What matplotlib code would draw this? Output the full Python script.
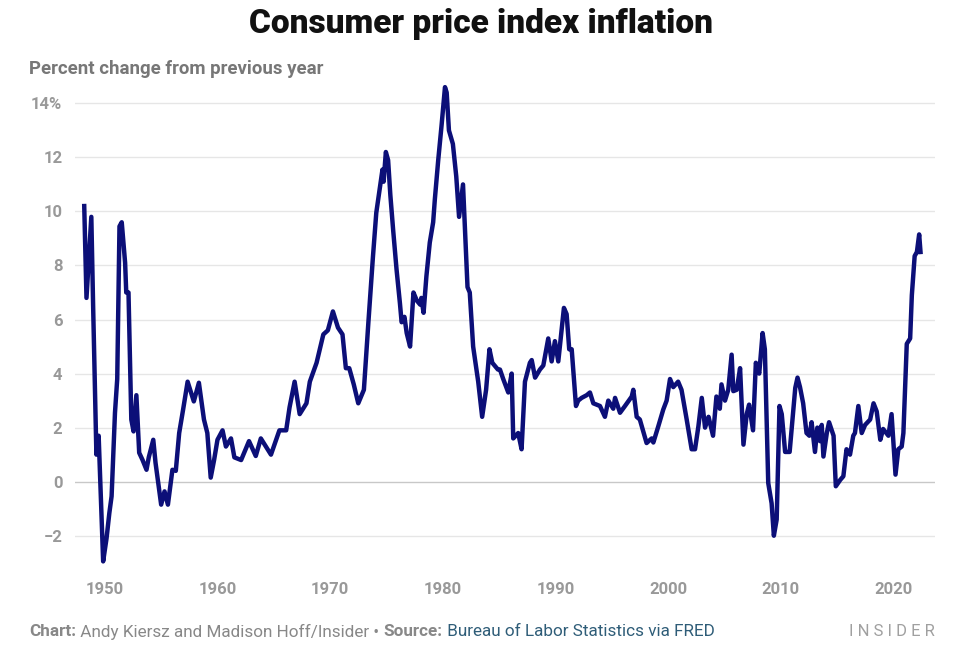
import matplotlib
matplotlib.use("Agg")
import matplotlib.pyplot as plt

plt.rcParams['font.family'] = ['Roboto', 'DejaVu Sans']

# year-over-year CPI change
years = [1948.17, 1948.37, 1948.8, 1948.96, 1949.25, 1949.45, 1949.85, 1950.15, 1950.4, 1950.6,
         1950.9, 1951.1, 1951.3, 1951.5, 1951.8, 1951.9, 1952.1, 1952.35, 1952.55, 1952.8,
         1953.05, 1953.35, 1953.7, 1953.9, 1954.3, 1954.5, 1955.0, 1955.3, 1955.6, 1956.0,
         1956.3, 1956.6, 1956.95, 1957.35, 1957.9, 1958.35, 1958.8, 1959.1, 1959.4, 1959.7,
         1960.0, 1960.45, 1960.75, 1961.2, 1961.5, 1962.1, 1962.8, 1963.4, 1963.85, 1964.75,
         1965.5, 1966.1, 1966.4, 1966.85, 1967.3, 1967.9, 1968.2, 1968.8, 1969.4, 1969.8,
         1970.25, 1970.7, 1971.1, 1971.4, 1971.7, 1972.1, 1972.5, 1973.0, 1973.4, 1973.65,
         1973.8, 1974.1, 1974.65, 1974.75, 1974.95, 1975.15, 1975.35, 1975.6, 1975.9, 1976.2,
         1976.35, 1976.6, 1976.8, 1977.1, 1977.4, 1977.7, 1978.0, 1978.1, 1978.3, 1978.55,
         1978.85, 1979.15, 1979.3, 1979.6, 1979.9, 1980.2, 1980.35, 1980.55, 1980.9, 1981.2,
         1981.45, 1981.8, 1982.0, 1982.2, 1982.4, 1982.7, 1983.15, 1983.5, 1983.85, 1984.15,
         1984.4, 1984.9, 1985.08, 1985.37, 1985.82, 1986.12, 1986.26, 1986.7, 1987.0, 1987.3,
         1987.74, 1987.9, 1988.2, 1988.63, 1988.93, 1989.37, 1989.67, 1989.96, 1990.26, 1990.76,
         1991.0, 1991.23, 1991.45, 1991.83, 1992.03, 1992.33, 1992.78, 1993.07, 1993.37, 1993.96,
         1994.4, 1994.7, 1995.14, 1995.3, 1995.74, 1996.18, 1996.78, 1996.92, 1997.22, 1997.5,
         1998.1, 1998.55, 1998.7, 1999.14, 1999.58, 1999.88, 2000.18, 2000.47, 2000.9, 2001.2,
         2001.66, 2002.1, 2002.4, 2002.7, 2003.0, 2003.29, 2003.6, 2004.0, 2004.3, 2004.6,
         2004.75, 2005.06, 2005.35, 2005.65, 2005.8, 2006.1, 2006.4, 2006.7, 2006.99, 2007.2,
         2007.55, 2007.8, 2008.1, 2008.4, 2008.6, 2008.9, 2009.2, 2009.4, 2009.65, 2009.9,
         2010.1, 2010.4, 2010.8, 2011.3, 2011.5, 2011.72, 2012.0, 2012.3, 2012.55, 2012.75,
         2013.05, 2013.26, 2013.5, 2013.65, 2013.8, 2014.1, 2014.3, 2014.7, 2014.9, 2015.3,
         2015.57, 2015.85, 2016.16, 2016.45, 2016.6, 2016.9, 2017.2, 2017.5, 2017.95, 2018.25,
         2018.53, 2018.85, 2019.1, 2019.57, 2019.85, 2020.2, 2020.45, 2020.75, 2020.9, 2021.2,
         2021.5, 2021.65, 2021.9, 2022.1, 2022.3, 2022.42]
cpi = [10.2, 6.8, 9.8, 6.5, 1.0, 1.7, -2.95, -2.1, -1.16, -0.54,
       2.55, 3.8, 9.45, 9.6, 8.1, 7.0, 7.0, 2.3, 1.86, 3.2,
       1.07, 0.8, 0.44, 0.9, 1.55, 0.7, -0.85, -0.36, -0.85, 0.44,
       0.4, 1.8, 2.67, 3.7, 2.97, 3.66, 2.3, 1.8, 0.15, 0.8,
       1.55, 1.9, 1.3, 1.6, 0.9, 0.8, 1.5, 0.95, 1.6, 1.0,
       1.9, 1.9, 2.75, 3.7, 2.5, 2.9, 3.7, 4.4, 5.45, 5.6,
       6.3, 5.7, 5.45, 4.2, 4.2, 3.6, 2.9, 3.4, 5.9, 7.4,
       8.3, 9.95, 11.55, 11.1, 12.2, 11.9, 10.6, 9.3, 7.85, 6.6,
       5.9, 6.1, 5.5, 5.0, 7.0, 6.7, 6.55, 6.8, 6.25, 7.6,
       8.85, 9.6, 10.45, 11.9, 13.2, 14.6, 14.4, 13.0, 12.5, 11.3,
       9.8, 11.0, 9.1, 7.2, 7.0, 5.0, 3.7, 2.4, 3.4, 4.9,
       4.4, 4.15, 4.15, 3.8, 3.3, 4.0, 1.6, 1.8, 1.2, 3.7,
       4.4, 4.5, 3.85, 4.15, 4.3, 5.3, 4.45, 5.2, 4.45, 6.43,
       6.2, 4.9, 4.9, 2.8, 3.0, 3.1, 3.2, 3.3, 2.9, 2.8,
       2.4, 3.0, 2.7, 3.1, 2.55, 2.8, 3.15, 3.4, 2.4, 2.3,
       1.43, 1.6, 1.45, 2.05, 2.67, 3.0, 3.8, 3.5, 3.7, 3.4,
       2.3, 1.2, 1.2, 2.05, 3.1, 2.0, 2.4, 1.7, 3.15, 2.7,
       3.6, 3.0, 3.4, 4.7, 3.35, 3.4, 4.2, 1.37, 2.5, 2.85,
       1.9, 4.4, 4.0, 5.5, 4.9, -0.05, -0.8, -2.0, -1.4, 2.8,
       2.5, 1.1, 1.1, 3.47, 3.85, 3.5, 2.9, 1.8, 1.7, 2.2,
       1.1, 2.0, 1.5, 2.1, 0.93, 1.8, 2.2, 1.7, -0.17, 0.07,
       0.2, 1.2, 1.0, 1.7, 1.8, 2.8, 1.8, 2.1, 2.3, 2.9,
       2.6, 1.55, 1.95, 1.7, 2.5, 0.26, 1.2, 1.3, 1.8, 5.1,
       5.3, 6.9, 8.35, 8.5, 9.15, 8.5]

y_ticks = [-2, 0, 2, 4, 6, 8, 10, 12, 14]
y_labels = ['\u22122', '0', '2', '4', '6', '8', '10', '12', '14%']
x_ticks = [1950, 1960, 1970, 1980, 1990, 2000, 2010, 2020]

fig = plt.figure(figsize=(9.6, 6.7), dpi=100)
ax = fig.add_axes([0.078, 0.148, 0.896, 0.730])

ax.plot(years, cpi, color='#0c0f78', lw=3.2, solid_joinstyle='round', zorder=3)

ax.set_xlim(1947.34, 2023.71)
ax.set_ylim(-3.3, 14.8)
ax.set_yticks(y_ticks)
ax.set_yticklabels(y_labels)
ax.set_xticks(x_ticks)
ax.set_xticklabels([str(t) for t in x_ticks])

for g in y_ticks:
    ax.axhline(g, color='#c8c8c8' if g == 0 else '#e6e6e6', lw=1.0, zorder=1)

for s in ax.spines.values():
    s.set_visible(False)
ax.tick_params(axis='both', length=0, colors='#999999', labelsize=12)
ax.tick_params(axis='y', pad=9)
ax.tick_params(axis='x', pad=8)
for lbl in ax.get_xticklabels() + ax.get_yticklabels():
    lbl.set_fontweight('bold')

fig.text(0.501, 0.964, 'Consumer price index inflation', ha='center', va='center',
         fontsize=24, fontweight='black', color='#111111')
fig.text(0.030, 0.897, 'Percent change from previous year', ha='left', va='center',
         fontsize=13.4, fontweight='bold', color='#777777')

# footer, pieces laid out one after another
fig.canvas.draw()
r = fig.canvas.get_renderer()
pieces = [('Chart:', 'bold', '#888888'),
          (' Andy Kiersz and Madison Hoff/Insider \u2022 ', 'normal', '#888888'),
          ('Source:', 'bold', '#888888'),
          (' Bureau of Labor Statistics via FRED', 'normal', '#2f5d78')]
x = 29
for txt, w, c in pieces:
    t = fig.text(x / 960, 1 - 632 / 670, txt, ha='left', va='center',
                 fontsize=12.3, fontweight=w, color=c)
    x += t.get_window_extent(r).width

fig.text(935 / 960, 1 - 632 / 670, 'I N S I D E R', ha='right', va='center',
         fontsize=12, color='#a0a0a0')

fig.savefig('out.png', dpi=100)
